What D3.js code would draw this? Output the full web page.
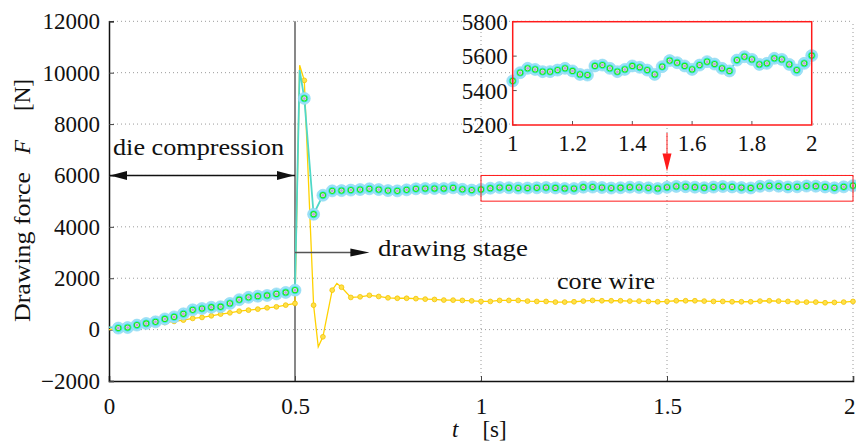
<!DOCTYPE html>
<html><head><meta charset="utf-8">
<script src="https://cdn.jsdelivr.net/npm/d3@7"></script>
<style>
body{margin:0;background:#fff}
text{font-family:"Liberation Serif","Times New Roman",serif;fill:#111}
</style>
</head><body>
<svg id="c" width="856" height="445"></svg>
<script>
// ---------------- data ----------------
const sampleStep = 0.025; // s, marker spacing (first marker at 0.025 s)
// drawing force (cyan series), one value per marker, t = 0.025 ... 2.0
const drawingForce = [
  60, 80, 175, 240, 303, 415, 495, 615, 770, 820,
  870, 890, 1020, 1165, 1255, 1300, 1330, 1390, 1447, 1536,
  9000, 4490, 5230, 5400, 5410, 5430, 5450, 5480, 5450, 5410,
  5400, 5440, 5480, 5490, 5490, 5490, 5520, 5460, 5430, 5456,
  5504, 5529, 5523, 5510, 5510, 5519, 5529, 5514, 5494, 5490,
  5543, 5548, 5529, 5510, 5523, 5543, 5535, 5519, 5494, 5539,
  5574, 5562, 5543, 5523, 5548, 5568, 5554, 5529, 5514, 5577,
  5597, 5581, 5552, 5558, 5587, 5581, 5552, 5519, 5558, 5603
];
// core wire force (yellow series), t = 0.025 ... 2.0
const coreWireForce = [
  45, 90, 135, 180, 225, 275, 320, 369, 436, 474,
  537, 603, 653, 719, 758, 797, 848, 887, 953, 1019,
  9700, 950, -280, 1536, 1650, 1252, 1276, 1335, 1290, 1237,
  1220, 1220, 1205, 1186, 1174, 1150, 1147, 1136, 1120, 1097,
  1097, 1136, 1136, 1136, 1110, 1097, 1097, 1071, 1071, 1084,
  1110, 1136, 1123, 1123, 1123, 1110, 1110, 1097, 1084, 1097,
  1123, 1123, 1123, 1110, 1097, 1097, 1084, 1084, 1084, 1110,
  1123, 1110, 1097, 1071, 1071, 1071, 1045, 1058, 1071, 1097
];
// extra line vertices (no markers)
const drawingExtraT = [0, 0.5125];
const drawingExtraF = [100, 10100];
const coreExtraT = [0, 0.5125, 0.5625, 0.6125];
const coreExtraF = [0, 10290, -670, 1800];

const xTicks = [0, 0.5, 1, 1.5, 2];
const yTicks = [-2000, 0, 2000, 4000, 6000, 8000, 10000, 12000];
const insetXTicks = [1, 1.2, 1.4, 1.6, 1.8, 2];
const insetYTicks = [5200, 5400, 5600, 5800];
const insetRange = {t0: 1, t1: 2, f0: 5200, f1: 5800};
const zoomBox = {t0: 1, t1: 2, f0: 5000, f1: 6000};
const stageT = 0.5;
const dieArrow = {t0: 0, t1: 0.5, f: 6000};
const drawArrow = {t0: 0.5, t1: 0.7, f: 3000};

// ---------------- build ----------------
const FONT = '"Liberation Serif","Times New Roman",serif';
const svg = d3.select("#c");
const x = d3.scaleLinear().domain([0, 2]).range([109, 853]);
const y = d3.scaleLinear().domain([-2000, 12000]).range([381, 21.3]);
const xi = d3.scaleLinear().domain([insetRange.t0, insetRange.t1]).range([512.7, 811.7]);
const yi = d3.scaleLinear().domain([insetRange.f0, insetRange.f1]).range([125, 21.7]);

const markerT = drawingForce.map((_, i) => +((i + 1) * sampleStep).toFixed(4));
const drawPts = markerT.map((t, i) => ({t, f: drawingForce[i]}));
const corePts = markerT.map((t, i) => ({t, f: coreWireForce[i]}));
const drawLine = drawPts.concat(drawingExtraT.map((t, i) => ({t, f: drawingExtraF[i]}))).sort((a, b) => a.t - b.t);
const coreLine = corePts.concat(coreExtraT.map((t, i) => ({t, f: coreExtraF[i]}))).sort((a, b) => a.t - b.t);

const fs = 23;
const gridCol = "#9a9a9a";

// gridlines
svg.append("g").selectAll("line").data(yTicks.filter(v => v > -2000)).join("line")
  .attr("x1", x(0)).attr("x2", x(2)).attr("y1", d => y(d)).attr("y2", d => y(d))
  .attr("stroke", gridCol).attr("stroke-width", 1).attr("stroke-dasharray", "1,3");
svg.append("g").selectAll("line").data(xTicks.filter(v => v > 0.5)).join("line")
  .attr("x1", d => x(d)).attr("x2", d => x(d)).attr("y1", y(-2000)).attr("y2", y(12000))
  .attr("stroke", gridCol).attr("stroke-width", 1).attr("stroke-dasharray", "1,3");

// stage separation line
svg.append("line").attr("x1", x(stageT)).attr("x2", x(stageT))
  .attr("y1", y(-2000)).attr("y2", y(12000)).attr("stroke", "#555").attr("stroke-width", 1.4);

// axes
const xAxis = d3.axisBottom(x).tickValues(xTicks).tickSize(-5).tickPadding(12).tickFormat(d3.format("~g"));
const gx = svg.append("g").attr("transform", `translate(0,${y(-2000)})`).call(xAxis);
const yAxis = d3.axisLeft(y).tickValues(yTicks).tickSize(-5).tickPadding(9).tickFormat(d3.format("d"));
const gy = svg.append("g").attr("transform", `translate(${x(0)},0)`).call(yAxis);
[gx, gy].forEach(g => {
  g.attr("font-family", FONT);
  g.select(".domain").attr("stroke", "#111").attr("stroke-width", 1.5);
  g.selectAll(".tick line").attr("stroke", "#444");
  g.selectAll("text").style("font-family", FONT).attr("font-size", fs).attr("fill", "#111");
});
gx.selectAll("text").attr("dy", "0.9em");
// keep the last x label inside the window
gx.selectAll(".tick").filter(d => d === 2).select("text").attr("text-anchor", "end").attr("x", 855 - x(2));

// lines
const lineMain = d3.line().x(d => x(d.t)).y(d => y(d.f));
svg.append("path").attr("d", lineMain(coreLine)).attr("fill", "none").attr("stroke", "#ffd200").attr("stroke-width", 1.3);
svg.append("g").selectAll("circle").data(corePts).join("circle")
  .attr("cx", d => x(d.t)).attr("cy", d => y(d.f)).attr("r", 2.4)
  .attr("fill", "#ffe04a").attr("stroke", "#f4c400").attr("stroke-width", 0.8);

svg.append("path").attr("d", lineMain(drawLine)).attr("fill", "none").attr("stroke", "#4fd8c8").attr("stroke-width", 1.8);

function cyanMarkers(g, pts, sx, sy) {
  g.append("g").selectAll("circle").data(pts).join("circle")
    .attr("cx", d => sx(d.t)).attr("cy", d => sy(d.f)).attr("r", 6)
    .attr("fill", "#9ee0f6").attr("stroke", "#86d8f2").attr("stroke-width", 0.6);
  g.append("g").selectAll("circle").data(pts).join("circle")
    .attr("cx", d => sx(d.t)).attr("cy", d => sy(d.f)).attr("r", 3.6)
    .attr("fill", "none").attr("stroke", "#2fe3f0").attr("stroke-width", 1);
  g.append("g").selectAll("circle").data(pts).join("circle")
    .attr("cx", d => sx(d.t)).attr("cy", d => sy(d.f)).attr("r", 2.6)
    .attr("fill", "#d9f2ee").attr("stroke", "#1ae81a").attr("stroke-width", 1.1);
  g.append("g").selectAll("circle").data(pts).join("circle")
    .attr("cx", d => sx(d.t)).attr("cy", d => sy(d.f)).attr("r", 1.5).attr("fill", "#c49be6");
}
cyanMarkers(svg.append("g"), drawPts, x, y);

// zoom indicator box
svg.append("rect").attr("x", x(zoomBox.t0)).attr("y", y(zoomBox.f1))
  .attr("width", x(zoomBox.t1) - x(zoomBox.t0)).attr("height", y(zoomBox.f0) - y(zoomBox.f1))
  .attr("fill", "none").attr("stroke", "#ff1a1a").attr("stroke-width", 1);

// arrows
function arrowHead(g, tipX, tipY, dir, len, half, col) {
  let p;
  if (dir === "right") p = [[tipX, tipY], [tipX - len, tipY - half], [tipX - len, tipY + half]];
  else if (dir === "left") p = [[tipX, tipY], [tipX + len, tipY - half], [tipX + len, tipY + half]];
  else p = [[tipX, tipY], [tipX - half, tipY - len], [tipX + half, tipY - len]];
  g.append("polygon").attr("points", p.map(q => q.join(",")).join(" ")).attr("fill", col);
}
const ya = y(dieArrow.f);
svg.append("line").attr("x1", x(dieArrow.t0)).attr("x2", x(dieArrow.t1)).attr("y1", ya).attr("y2", ya)
  .attr("stroke", "#111").attr("stroke-width", 1.5);
arrowHead(svg, x(dieArrow.t0) + 1, ya, "left", 17, 4.5, "#111");
arrowHead(svg, x(dieArrow.t1) - 1, ya, "right", 17, 4.5, "#111");

const yb = y(drawArrow.f);
svg.append("line").attr("x1", x(drawArrow.t0)).attr("x2", x(drawArrow.t1) - 15).attr("y1", yb).attr("y2", yb)
  .attr("stroke", "#555").attr("stroke-width", 1.5);
arrowHead(svg, x(drawArrow.t1), yb, "right", 19, 4, "#111");

// red pointer arrow
svg.append("line").attr("x1", x(1.5)).attr("x2", x(1.5)).attr("y1", 133).attr("y2", 155)
  .attr("stroke", "#ff1a1a").attr("stroke-width", 1);
arrowHead(svg, x(1.5), y(zoomBox.f1) - 4, "down", 18, 4.5, "#ff1a1a");

// annotations
function label(xp, yp, len, str) {
  svg.append("text").attr("x", xp).attr("y", yp).attr("font-size", fs).style("font-family", FONT)
    .attr("textLength", len).attr("lengthAdjust", "spacingAndGlyphs").text(str);
}
label(113, 155, 171, "die compression");
label(378, 256, 150, "drawing stage");
label(557, 289, 98, "core wire");

// axis titles
const yl = svg.append("text").attr("transform", "translate(30,322) rotate(-90)").attr("font-size", fs).style("font-family", FONT);
yl.append("tspan").attr("textLength", 150).attr("lengthAdjust", "spacingAndGlyphs").text("Drawing force");
yl.append("tspan").attr("dx", 18).attr("font-style", "italic").text("F");
yl.append("tspan").attr("dx", 29).text("[N]");

const xl = svg.append("text").attr("x", 452).attr("y", 437).attr("font-size", fs).style("font-family", FONT);
xl.append("tspan").attr("font-style", "italic").text("t");
xl.append("tspan").attr("dx", 24).text("[s]");

// ---------------- inset ----------------
const ins = svg.append("g");
ins.append("rect").attr("x", xi(insetRange.t0)).attr("y", yi(insetRange.f1))
  .attr("width", xi(insetRange.t1) - xi(insetRange.t0)).attr("height", yi(insetRange.f0) - yi(insetRange.f1))
  .attr("fill", "#fff");
const inPts = drawPts.filter(d => d.t >= insetRange.t0 - 1e-9);
ins.append("path").attr("d", d3.line().x(d => xi(d.t)).y(d => yi(d.f))(inPts))
  .attr("fill", "none").attr("stroke", "#4fd8c8").attr("stroke-width", 1.8);
cyanMarkers(ins.append("g"), inPts, xi, yi);
ins.append("g").selectAll("line").data(insetXTicks).join("line")
  .attr("x1", d => xi(d)).attr("x2", d => xi(d)).attr("y1", yi(insetRange.f0)).attr("y2", yi(insetRange.f0) - 4)
  .attr("stroke", "#555");
ins.append("g").selectAll("line").data(insetYTicks).join("line")
  .attr("x1", xi(insetRange.t0)).attr("x2", xi(insetRange.t0) + 4).attr("y1", d => yi(d)).attr("y2", d => yi(d))
  .attr("stroke", "#555");
ins.append("rect").attr("x", xi(insetRange.t0)).attr("y", yi(insetRange.f1))
  .attr("width", xi(insetRange.t1) - xi(insetRange.t0)).attr("height", yi(insetRange.f0) - yi(insetRange.f1))
  .attr("fill", "none").attr("stroke", "#ff1a1a").attr("stroke-width", 1.5);
ins.append("g").selectAll("text").data(insetXTicks).join("text")
  .attr("x", d => xi(d)).attr("y", yi(insetRange.f0) + 26).attr("text-anchor", "middle").attr("font-size", fs)
  .style("font-family", FONT).text(d => d3.format("~g")(d));
ins.append("g").selectAll("text").data(insetYTicks).join("text")
  .attr("x", xi(insetRange.t0) - 5).attr("y", d => yi(d)).attr("dy", "0.35em").attr("text-anchor", "end").attr("font-size", fs)
  .style("font-family", FONT).text(d => d3.format("d")(d));
</script>
</body></html>
